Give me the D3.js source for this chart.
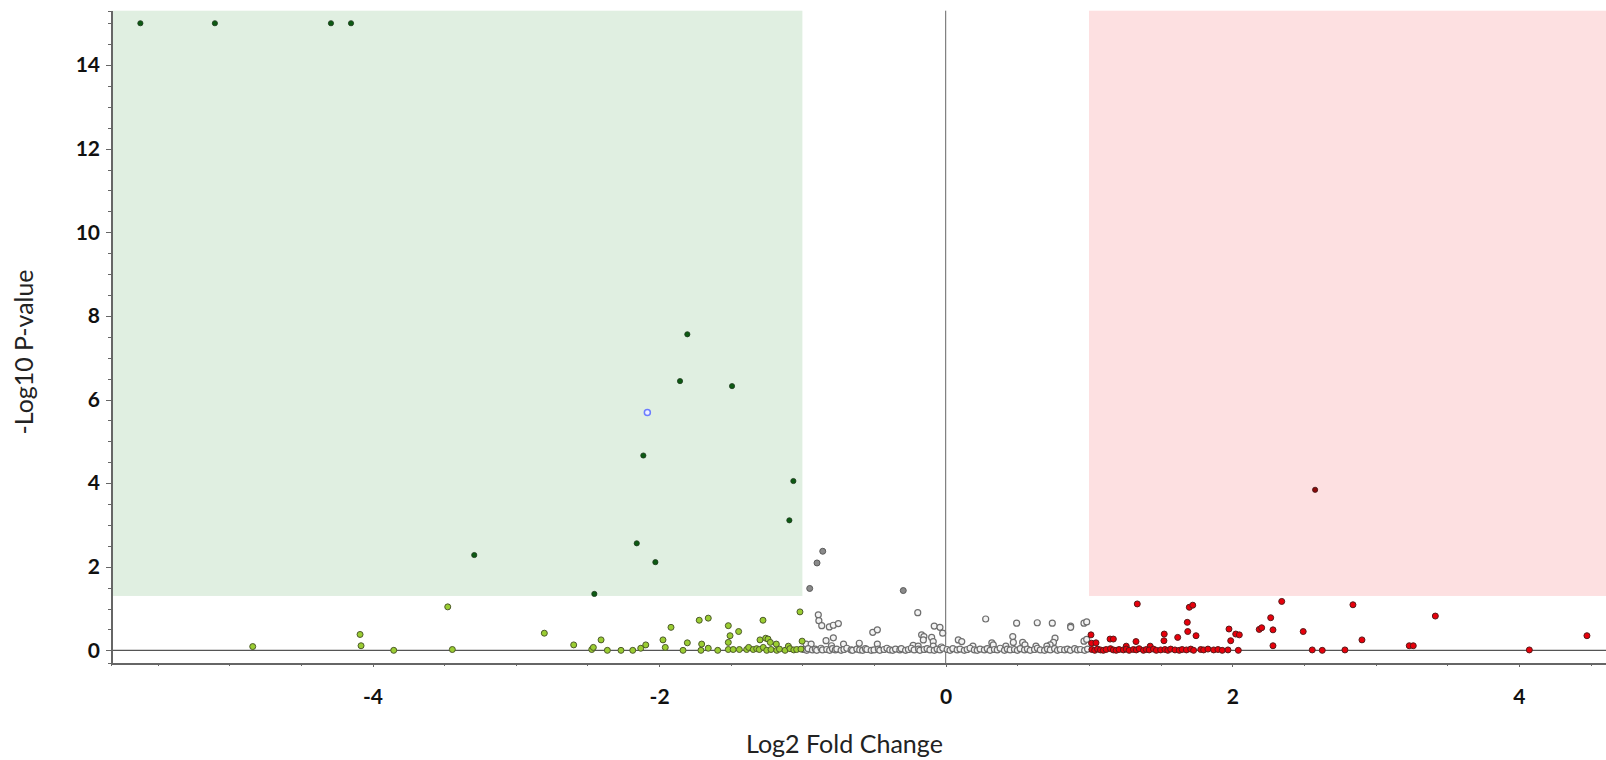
<!DOCTYPE html>
<html lang="en">
  <head>
    <meta charset="utf-8">
    <title>Volcano plot</title>
    <script type="text/javascript" src="https://cdnjs.cloudflare.com/ajax/libs/d3/7.8.5/d3.min.js"></script>
    <style>
      body { margin: 0; background: #fff; }
      .axis path, .axis line { fill: none; stroke: #666; shape-rendering: crispEdges; }
      .axis text { font-family: Lato, "Open Sans", sans-serif; font-weight: bold; font-size: 21px; fill: #111; }
      .title { font-family: Lato, "Open Sans", sans-serif; font-size: 24px; fill: #222; }
    </style>
  </head>
  <body>
    <script type="text/javascript">

      // [log2 fold change, -log10 p]
      // significant down (dark green)
      var downSig = [
        [-5.62, 15], [-5.10, 15], [-4.29, 15], [-4.15, 15],
        [-1.803, 7.56], [-1.854, 6.44], [-1.491, 6.32], [-2.110, 4.66],
        [-1.063, 4.05], [-1.091, 3.11], [-2.156, 2.56], [-2.026, 2.11],
        [-3.29, 2.28], [-2.452, 1.35]
      ];
      // highlighted point (blue ring)
      var selected = [[-2.082, 5.69]];

      // down but not significant (light green)
      var downNs = [
        [-4.836, 0.09], [-4.087, 0.38], [-4.080, 0.11], [-3.852, 0], [-3.475, 1.04], [-3.443, 0.02],
        [-2.801, 0.41], [-2.596, 0.13], [-2.470, 0.02], [-2.459, 0.07], [-2.405, 0.25], [-2.361, 0],
        [-2.266, 0], [-2.184, 0], [-2.128, 0.05], [-2.093, 0.13], [-1.973, 0.25], [-1.957, 0.07],
        [-1.917, 0.55], [-1.833, 0], [-1.803, 0.18], [-1.720, 0.72], [-1.657, 0.77], [-1.703, 0.15],
        [-1.708, 0], [-1.657, 0.05], [-1.591, 0], [-1.517, 0.59], [-1.505, 0.35], [-1.517, 0.19],
        [-1.445, 0.45], [-1.517, 0.02], [-1.483, 0.02], [-1.440, 0.02], [-1.389, 0.02], [-1.375, 0.07],
        [-1.343, 0.02], [-1.319, 0.04], [-1.301, 0.02], [-1.275, 0.72], [-1.296, 0.25], [-1.256, 0.29],
        [-1.240, 0.27], [-1.224, 0.19], [-1.182, 0.15], [-1.273, 0.07], [-1.249, 0], [-1.219, 0.02],
        [-1.179, 0], [-1.160, 0.03], [-1.121, 0], [-1.098, 0.10], [-1.087, 0.04], [-1.060, 0.01],
        [-1.040, 0.02], [-1.017, 0.92], [-1.002, 0.22], [-1.010, 0.03]
      ];

      // not significant, small change (grey rings)
      var midNs = [
        [-0.889, 0.85], [-0.885, 0.71], [-0.865, 0.59], [-0.812, 0.56], [-0.784, 0.60], [-0.749, 0.64],
        [-0.835, 0.23], [-0.784, 0.30], [-0.974, 0.15], [-0.939, 0.15], [-0.797, 0.11], [-0.713, 0.15],
        [-0.603, 0.17], [-0.477, 0.15], [-0.509, 0.43], [-0.477, 0.49], [-0.195, 0.90], [-0.168, 0.37],
        [-0.152, 0.33], [-0.156, 0.25], [-0.098, 0.31], [-0.087, 0.21], [-0.080, 0.58], [-0.040, 0.55],
        [-0.021, 0.41], [-0.227, 0.12], [-0.192, 0.10], [-0.087, 0.10], [-0.030, 0.08], [0.088, 0.25],
        [0.112, 0.21], [0.279, 0.75], [0.322, 0.18], [0.332, 0.13], [0.468, 0.33], [0.472, 0.19],
        [0.537, 0.19], [0.553, 0.13], [0.495, 0.65], [0.639, 0.66], [0.744, 0.65], [0.872, 0.58],
        [0.872, 0.55], [0.965, 0.65], [0.984, 0.68], [0.763, 0.29], [0.752, 0.19], [0.729, 0.13],
        [0.706, 0.10], [0.965, 0.22], [0.984, 0.26], [0.190, 0.10], [0.420, 0.10], [0.630, 0.10],
        [-0.99, 0.02], [-0.97, 0.00], [-0.96, 0.04], [-0.93, 0.01], [-0.91, 0.03], [-0.90, 0.00],
        [-0.87, 0.05], [-0.86, 0.01], [-0.83, 0.02], [-0.81, 0.00], [-0.79, 0.04], [-0.77, 0.01],
        [-0.76, 0.03], [-0.73, 0.00], [-0.71, 0.02], [-0.69, 0.05], [-0.66, 0.01], [-0.65, 0.00],
        [-0.62, 0.03], [-0.60, 0.01], [-0.58, 0.00], [-0.56, 0.04], [-0.55, 0.02], [-0.52, 0.00],
        [-0.50, 0.01], [-0.47, 0.03], [-0.46, 0.00], [-0.43, 0.02], [-0.41, 0.05], [-0.39, 0.01],
        [-0.37, 0.00], [-0.35, 0.03], [-0.32, 0.01], [-0.31, 0.04], [-0.28, 0.00], [-0.26, 0.02],
        [-0.24, 0.05], [-0.22, 0.01], [-0.19, 0.03], [-0.18, 0.00], [-0.15, 0.02], [-0.13, 0.04],
        [-0.11, 0.01], [-0.08, 0.00], [-0.06, 0.03], [-0.04, 0.01], [-0.02, 0.05], [0.01, 0.02],
        [0.03, 0.00], [0.05, 0.04], [0.08, 0.01], [0.10, 0.03], [0.13, 0.00], [0.15, 0.02],
        [0.17, 0.05], [0.20, 0.01], [0.22, 0.00], [0.24, 0.03], [0.27, 0.01], [0.29, 0.04],
        [0.31, 0.00], [0.34, 0.02], [0.36, 0.01], [0.38, 0.05], [0.41, 0.00], [0.43, 0.03],
        [0.45, 0.01], [0.48, 0.02], [0.50, 0.00], [0.52, 0.04], [0.55, 0.01], [0.57, 0.03],
        [0.59, 0.00], [0.62, 0.02], [0.64, 0.05], [0.66, 0.01], [0.69, 0.00], [0.71, 0.03],
        [0.73, 0.01], [0.76, 0.04], [0.78, 0.00], [0.80, 0.02], [0.83, 0.01], [0.85, 0.03],
        [0.87, 0.00], [0.90, 0.04], [0.92, 0.01], [0.94, 0.02], [0.97, 0.00], [0.99, 0.03]
      ];
      // small change but significant (grey filled)
      var midSig = [[-0.858, 2.37], [-0.898, 2.09], [-0.949, 1.48], [-0.296, 1.43]];

      // up but not significant (red)
      var upNs = [
        [1.014, 0.37], [1.018, 0.17], [1.049, 0.18], [1.147, 0.27], [1.170, 0.27], [1.337, 1.11],
        [1.328, 0.21], [1.260, 0.10], [1.427, 0.10], [1.525, 0.39], [1.523, 0.23], [1.619, 0.31],
        [1.686, 0.67], [1.689, 0.45], [1.700, 1.03], [1.724, 1.08], [1.747, 0.35], [1.977, 0.51],
        [1.989, 0.23], [2.024, 0.39], [2.049, 0.37], [2.042, 0], [2.188, 0.50], [2.205, 0.54],
        [2.268, 0.78], [2.284, 0.49], [2.284, 0.11], [2.345, 1.17], [2.495, 0.45], [2.558, 0.01],
        [2.628, 0], [2.786, 0.01], [2.842, 1.09], [2.905, 0.25], [3.235, 0.11], [3.263, 0.11],
        [3.417, 0.82], [4.073, 0.01], [4.475, 0.35],
        [1.02, 0.02], [1.04, 0.00], [1.06, 0.03], [1.08, 0.01], [1.10, 0.00], [1.12, 0.02],
        [1.15, 0.04], [1.17, 0.01], [1.19, 0.00], [1.21, 0.02], [1.24, 0.01], [1.26, 0.03],
        [1.28, 0.00], [1.31, 0.02], [1.33, 0.01], [1.35, 0.04], [1.38, 0.00], [1.40, 0.02],
        [1.42, 0.01], [1.45, 0.03], [1.47, 0.00], [1.50, 0.01], [1.53, 0.02], [1.55, 0.00],
        [1.57, 0.03], [1.60, 0.01], [1.63, 0.00], [1.65, 0.02], [1.68, 0.01], [1.71, 0.03],
        [1.73, 0.00], [1.78, 0.02], [1.80, 0.01], [1.83, 0.03], [1.87, 0.01], [1.90, 0.02],
        [1.93, 0.00], [1.97, 0.01]
      ];
      // significant up (dark red)
      var upSig = [[2.578, 3.84]];

      var xTicks = [-4, -2, 0, 2, 4];
      var yTicks = [0, 2, 4, 6, 8, 10, 12, 14];
      var pCut = 1.301, fcCut = 1;

      var W = 1606, H = 760;
      var xScale = d3.scaleLinear().domain([-5.825, 4.608]).range([111, 1606]);
      var yScale = d3.scaleLinear().domain([-0.31, 15.3]).range([663.3, 10.7]);

      var svg = d3.select("body").append("svg")
        .attr("width", W).attr("height", H);

      // shaded regions
      svg.append("rect")
        .attr("x", xScale(-5.825)).attr("y", yScale(15.3))
        .attr("width", xScale(-fcCut) - xScale(-5.825))
        .attr("height", yScale(pCut) - yScale(15.3))
        .attr("fill", "#e0efe1");
      svg.append("rect")
        .attr("x", xScale(fcCut)).attr("y", yScale(15.3))
        .attr("width", xScale(4.608) - xScale(fcCut))
        .attr("height", yScale(pCut) - yScale(15.3))
        .attr("fill", "#fde0e1");

      // zero lines
      svg.append("line")
        .attr("x1", xScale(0)).attr("x2", xScale(0))
        .attr("y1", yScale(15.3)).attr("y2", yScale(-0.31))
        .attr("stroke", "#666").attr("stroke-width", 1);
      svg.append("line")
        .attr("x1", xScale(-5.825)).attr("x2", xScale(4.608))
        .attr("y1", yScale(0)).attr("y2", yScale(0))
        .attr("stroke", "#555").attr("stroke-width", 1.2);

      function dots(data, r, fill, stroke, sw) {
        svg.append("g").selectAll("circle")
          .data(data)
          .enter()
          .append("circle")
          .attr("cx", function(d) { return xScale(d[0]); })
          .attr("cy", function(d) { return yScale(d[1]); })
          .attr("r", r)
          .attr("fill", fill)
          .attr("stroke", stroke)
          .attr("stroke-width", sw);
      }

      dots(midNs, 3, "#f4f4f4", "#6e6e6e", 1.2);
      dots(midSig, 3, "#8a8a8a", "#5a5a5a", 1);
      dots(downNs, 3, "#9acd32", "#4d5a2a", 1);
      dots(upNs, 3, "#e8000b", "#5a1a1a", 1);
      dots(downSig, 2.6, "#0c5a12", "#1f3a1f", 0.8);
      dots(upSig, 2.6, "#8b0a0a", "#3a1010", 0.8);
      dots(selected, 3, "#eef0ff", "#6b7cff", 1.5);

      // axes: major + minor ticks
      var plain = function(d) { return String(d); };
      var xMinor = d3.range(-5.5, 4.6, 0.5).filter(function(v) { return xTicks.indexOf(v) < 0; });
      var yMinor = d3.range(0.5, 15.1, 0.5).filter(function(v) { return yTicks.indexOf(v) < 0; });

      svg.append("g")
        .attr("class", "axis")
        .attr("transform", "translate(0," + yScale(-0.31) + ")")
        .call(d3.axisBottom(xScale).tickValues(xMinor).tickSize(3).tickFormat(""));
      var xAxis = svg.append("g")
        .attr("class", "axis")
        .attr("transform", "translate(0," + yScale(-0.31) + ")")
        .call(d3.axisBottom(xScale).tickValues(xTicks).tickSize(4).tickPadding(22).tickSizeOuter(0).tickFormat(plain));
      xAxis.select(".domain").attr("stroke-width", 2);

      svg.append("g")
        .attr("class", "axis")
        .attr("transform", "translate(" + xScale(-5.825) + ",0)")
        .call(d3.axisLeft(yScale).tickValues(yMinor).tickSize(3).tickFormat(""));
      var yAxis = svg.append("g")
        .attr("class", "axis")
        .attr("transform", "translate(" + xScale(-5.825) + ",0)")
        .call(d3.axisLeft(yScale).tickValues(yTicks).tickSize(5).tickPadding(6).tickSizeOuter(0).tickFormat(plain));
      yAxis.select(".domain").attr("stroke-width", 2);

      // axis titles, sized to the width they take in the original
      function fit(sel, target) {
        var w = sel.node().getComputedTextLength();
        sel.style("font-size", (24 * target / w) + "px");
      }
      var xTitle = svg.append("text")
        .attr("class", "title")
        .attr("x", 746).attr("y", 753)
        .text("Log2 Fold Change");
      fit(xTitle, 197);

      var yTitle = svg.append("text")
        .attr("class", "title")
        .attr("transform", "translate(33,352) rotate(-90)")
        .attr("text-anchor", "middle")
        .text("-Log10 P-value");
      fit(yTitle, 165);

    </script>
  </body>
</html>
